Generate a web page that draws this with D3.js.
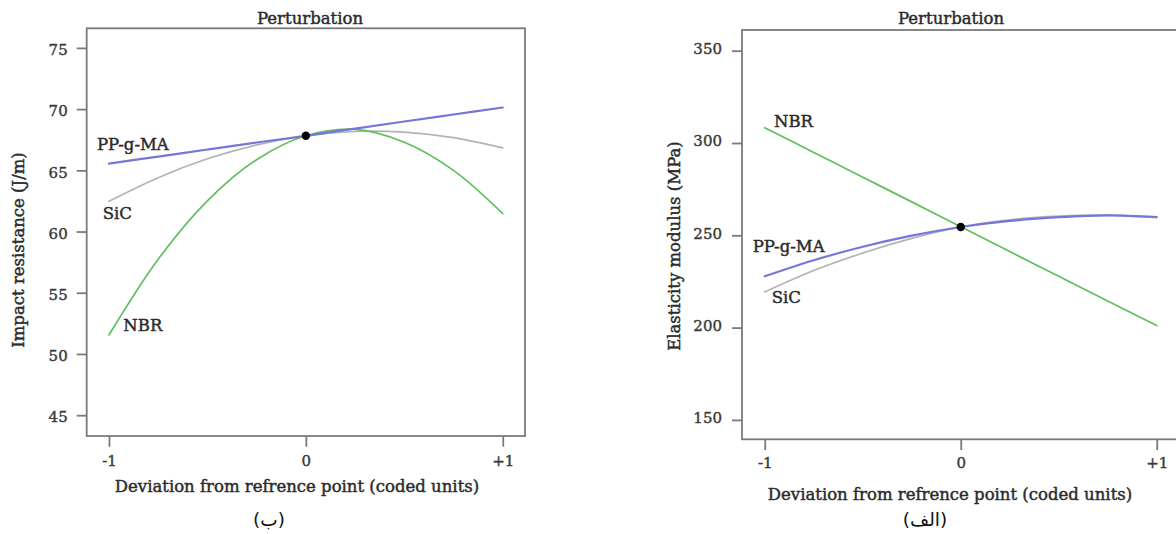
<!DOCTYPE html>
<html>
<head>
<meta charset="utf-8">
<script src="https://cdn.jsdelivr.net/npm/d3@7"></script>
<style>
  html, body { margin: 0; padding: 0; background: #fff; }
  svg { display: block; }
  .lbl { font-family: "DejaVu Serif", serif; fill: #2b2b2b; stroke: #2b2b2b; stroke-width: 0.45px; }
  .tick text { font-family: "DejaVu Serif", serif; fill: #3a3a3a; stroke: #3a3a3a; stroke-width: 0.4px; }
  .sub { font-family: "DejaVu Sans", sans-serif; fill: #111; }
</style>
</head>
<body>
<svg id="chart" width="1176" height="534"></svg>
<script>
// Coded deviation from the reference point
const deviation = [-1, -0.75, -0.5, -0.25, 0, 0.25, 0.5, 0.75, 1];
const xTickValues = [-1, 0, 1];
const xTickLabels = ["-1", "0", "+1"];

// Panel (ب): impact resistance (J/m)
const impactPPgMA = [65.55, 66.12, 66.70, 67.27, 67.82, 68.41, 68.99, 69.56, 70.13];
const impactSiC   = [62.47, 64.40, 65.94, 67.08, 67.82, 68.17, 68.12, 67.67, 66.83];
const impactNBR   = [51.55, 57.74, 62.51, 65.87, 67.82, 68.35, 67.30, 65.00, 61.47];
const impactTicks = [45, 50, 55, 60, 65, 70, 75];
const impactRef = 67.82;

// Panel (الف): elasticity modulus (MPa)
const modulusPPgMA = [227.8, 236.5, 243.8, 249.8, 254.5, 257.8, 259.8, 260.8, 259.9];
const modulusSiC   = [219.3, 230.9, 240.4, 248.3, 254.5, 258.4, 260.4, 260.9, 259.5];
const modulusNBR   = [308.3, 294.9, 281.5, 268.1, 254.6, 241.2, 227.8, 214.4, 201.2];
const modulusTicks = [150, 200, 250, 300, 350];
const modulusRef = 254.5;

const seriesNames = ["SiC", "NBR", "PP-g-MA"];
const seriesColors = { "SiC": "#b3b3b3", "NBR": "#5fbf5f", "PP-g-MA": "#7676da" };
const seriesWidths = { "SiC": 1.7, "NBR": 1.7, "PP-g-MA": 2.2 };

const svg = d3.select("#chart");

function drawPanel(cfg) {
  const g = svg.append("g");
  const x = d3.scaleLinear().domain(cfg.xDomain).range([cfg.left, cfg.right]);
  const y = d3.scaleLinear().domain(cfg.yDomain).range([cfg.bottom, cfg.top]);

  // y axis (ticks only, frame drawn separately)
  const yAxis = d3.axisLeft(y).tickValues(cfg.yTicks).tickSize(10).tickSizeOuter(0).tickPadding(cfg.yPad);
  const ya = g.append("g").attr("transform", `translate(${cfg.left},0)`).call(yAxis);
  ya.select(".domain").remove();
  ya.selectAll(".tick line").attr("stroke", "#7a7a7a").attr("stroke-width", 1.8);
  ya.selectAll(".tick text").attr("font-size", 15).attr("dy", cfg.yDy);

  const xAxis = d3.axisBottom(x).tickValues(xTickValues).tickFormat((d, i) => xTickLabels[i])
    .tickSize(cfg.xTickLen).tickSizeOuter(0).tickPadding(cfg.xPad);
  const xa = g.append("g").attr("transform", `translate(0,${cfg.bottom})`).call(xAxis);
  xa.select(".domain").remove();
  xa.selectAll(".tick line").attr("stroke", "#7a7a7a").attr("stroke-width", 1.8);
  xa.selectAll(".tick text").attr("font-size", 15);

  // frame
  g.append("rect")
    .attr("x", cfg.left).attr("y", cfg.top)
    .attr("width", cfg.right - cfg.left).attr("height", cfg.bottom - cfg.top)
    .attr("fill", "none").attr("stroke", "#7a7a7a").attr("stroke-width", 1.8);

  // response traces
  const line = d3.line()
    .x((d, i) => x(deviation[i]))
    .y(d => y(d))
    .curve(d3.curveCatmullRom.alpha(0.5));
  const plotArea = g.append("g");
  seriesNames.forEach(name => {
    plotArea.append("path")
      .datum(cfg.series[name])
      .attr("d", line)
      .attr("fill", "none")
      .attr("stroke", seriesColors[name])
      .attr("stroke-width", seriesWidths[name])
      .attr("stroke-linecap", "round");
  });

  // reference point
  g.append("circle").attr("cx", x(0)).attr("cy", y(cfg.ref)).attr("r", 4.2).attr("fill", "#000");

  // series labels
  cfg.labels.forEach(l => {
    g.append("text").attr("class", "lbl")
      .attr("x", x(l.x)).attr("y", y(l.y))
      .attr("font-size", 16.5)
      .text(l.name);
  });

  // titles
  g.append("text").attr("class", "lbl").attr("font-size", 16.5)
    .attr("text-anchor", "middle").attr("x", cfg.titleX).attr("y", 24)
    .text("Perturbation");
  g.append("text").attr("class", "lbl").attr("font-size", 16.5)
    .attr("text-anchor", "middle").attr("x", cfg.xLabelX).attr("y", cfg.xLabelY)
    .text("Deviation from refrence point (coded units)");
  g.append("text").attr("class", "lbl").attr("font-size", 16.5)
    .attr("text-anchor", "middle")
    .attr("transform", `translate(${cfg.yLabelX},${cfg.yLabelY}) rotate(-90)`)
    .text(cfg.yTitle);
  g.append("text").attr("class", "sub").attr("font-size", 18.5)
    .attr("text-anchor", "middle").attr("x", cfg.subX).attr("y", 526)
    .text(cfg.sub);
}

drawPanel({
  left: 86.7, right: 525, top: 28.3, bottom: 436,
  xDomain: [-1.113, 1.113], yDomain: [43.3, 76.6],
  yTicks: impactTicks, yPad: 9, yDy: "0.45em", xTickLen: 10.7, xPad: 9,
  series: { "PP-g-MA": impactPPgMA, "SiC": impactSiC, "NBR": impactNBR },
  ref: impactRef,
  labels: [
    { name: "PP-g-MA", x: -1.061, y: 66.67 },
    { name: "SiC", x: -1.032, y: 61.05 },
    { name: "NBR", x: -0.927, y: 51.88 }
  ],
  titleX: 310, xLabelX: 297, xLabelY: 492,
  yLabelX: 24, yLabelY: 250, yTitle: "Impact resistance (J/m)",
  subX: 269, sub: "(ب)"
});

drawPanel({
  left: 742, right: 1179.5, top: 30, bottom: 439.3,
  xDomain: [-1.116, 1.116], yDomain: [139.5, 361.2],
  yTicks: modulusTicks, yPad: 10, yDy: "0.2em", xTickLen: 10.7, xPad: 7,
  series: { "PP-g-MA": modulusPPgMA, "SiC": modulusSiC, "NBR": modulusNBR },
  ref: modulusRef,
  labels: [
    { name: "NBR", x: -0.953, y: 308.8 },
    { name: "PP-g-MA", x: -1.061, y: 240.8 },
    { name: "SiC", x: -0.964, y: 213.2 }
  ],
  titleX: 951, xLabelX: 950, xLabelY: 500,
  yLabelX: 680, yLabelY: 246, yTitle: "Elasticity modulus (MPa)",
  subX: 925, sub: "(الف)"
});
</script>
</body>
</html>
